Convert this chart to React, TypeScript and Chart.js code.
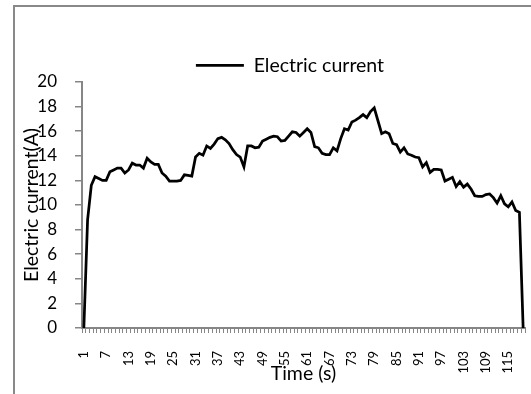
import React, { useEffect, useRef } from "react";
import { Chart, registerables } from "chart.js";

Chart.register(...registerables);

const seriesLabel = "Electric current";
const xTitle = "Time (s)";
const yTitle = "Electric current(A)";

const currentValues: number[] = [
  0, 8.8, 11.6, 12.3, 12.15, 12.0, 12.0, 12.7, 12.85, 13.0,
  13.0, 12.6, 12.85, 13.4, 13.25, 13.25, 13.0, 13.8, 13.5, 13.3,
  13.3, 12.6, 12.35, 11.95, 11.95, 11.95, 12.0, 12.45, 12.4, 12.35,
  13.9, 14.2, 14.05, 14.8, 14.6, 14.95, 15.4, 15.5, 15.3, 15.0,
  14.5, 14.1, 13.9, 13.1, 14.8, 14.8, 14.65, 14.7, 15.2, 15.35,
  15.5, 15.6, 15.55, 15.2, 15.25, 15.6, 15.95, 15.9, 15.6, 15.9,
  16.2, 15.9, 14.75, 14.65, 14.2, 14.1, 14.1, 14.65, 14.4, 15.4,
  16.2, 16.1, 16.75, 16.9, 17.1, 17.35, 17.1, 17.6, 17.9, 16.85,
  15.8, 15.95, 15.8, 15.0, 14.9, 14.3, 14.65, 14.15, 14.05, 13.9,
  13.85, 13.1, 13.45, 12.65, 12.9, 12.9, 12.85, 11.95, 12.1, 12.25,
  11.5, 11.9, 11.45, 11.7, 11.3, 10.75, 10.7, 10.7, 10.85, 10.9,
  10.6, 10.15, 10.75, 10.1, 9.85, 10.25, 9.55, 9.4, 0,
];

const timeLabels: string[] = currentValues.map((_, i) => String(i + 1));
const labelEvery = 6;

const FONT = "Lato";
const AXIS_GRAY = "#868686";
const TITLE_SIZE = 19.5;

const legendShift = {
  id: "legendShift",
  afterLayout(chart: any) {
    const l = chart.legend;
    if (!l) return;
    l.left += 27.5;
    l.right += 27.5;
    l.top += 3;
    l.bottom += 3;
  },
};

export default function App() {
  const canvasRef = useRef<HTMLCanvasElement | null>(null);

  useEffect(() => {
    if (!canvasRef.current) return;
    const chart = new Chart(canvasRef.current, {
      type: "line",
      data: {
        labels: timeLabels,
        datasets: [
          {
            label: seriesLabel,
            data: currentValues,
            borderColor: "#000000",
            backgroundColor: "#000000",
            borderWidth: 2.75,
            pointRadius: 0,
            tension: 0,
            fill: false,
          },
        ],
      },
      plugins: [legendShift],
      options: {
        responsive: false,
        animation: false,
        layout: { padding: { left: 0, right: 6, top: 42.5, bottom: 0 } },
        plugins: {
          tooltip: { enabled: false },
          legend: {
            position: "top",
            align: "center",
            labels: {
              usePointStyle: true,
              pointStyle: "line",
              pointStyleWidth: 48,
              boxWidth: 48,
              padding: 10,
              color: "#000000",
              font: { family: FONT, size: TITLE_SIZE },
            },
          },
        },
        scales: {
          x: {
            type: "category",
            offset: true,
            grid: {
              display: true,
              offset: true,
              drawOnChartArea: false,
              drawTicks: true,
              tickLength: 5,
              color: AXIS_GRAY,
              lineWidth: 1,
            },
            border: { display: true, color: AXIS_GRAY, width: 2 },
            ticks: {
              autoSkip: false,
              minRotation: 90,
              maxRotation: 90,
              padding: 18,
              color: "#000000",
              font: { family: FONT, size: 13 },
              callback: (_v: any, i: number) => (i % labelEvery === 0 ? timeLabels[i] : ""),
            },
            title: {
              display: true,
              text: xTitle,
              color: "#000000",
              font: { family: FONT, size: TITLE_SIZE },
              padding: { top: 0, bottom: 9 },
            },
            afterFit: (scale: any) => {
              scale.height = 66;
              scale.paddingLeft = 0;
              scale.paddingRight = 0;
            },
          },
          y: {
            min: 0,
            max: 20,
            ticks: {
              stepSize: 2,
              padding: 18,
              color: "#000000",
              font: { family: FONT, size: 17 },
            },
            grid: {
              display: true,
              drawOnChartArea: false,
              drawTicks: true,
              tickLength: 7,
              color: AXIS_GRAY,
              lineWidth: 1.5,
            },
            border: { display: true, color: AXIS_GRAY, width: 2 },
            title: {
              display: true,
              text: yTitle,
              color: "#000000",
              font: { family: FONT, size: TITLE_SIZE },
              padding: { top: 20, bottom: 0 },
            },
            afterFit: (scale: any) => {
              scale.width = 82;
            },
          },
        },
      },
    });
    return () => chart.destroy();
  }, []);

  return (
    <div
      style={{
        position: "fixed",
        left: 0,
        top: 0,
        width: 531,
        height: 394,
        overflow: "hidden",
        background: "#ffffff",
      }}
    >
      <canvas
        ref={canvasRef}
        width={531}
        height={394}
        style={{ position: "absolute", left: 0, top: 0, width: 531, height: 394 }}
      />
      <div
        style={{
          position: "absolute",
          left: 13,
          top: 5,
          width: 700,
          height: 600,
          border: "2px solid #898989",
          boxSizing: "border-box",
          pointerEvents: "none",
        }}
      />
    </div>
  );
}
